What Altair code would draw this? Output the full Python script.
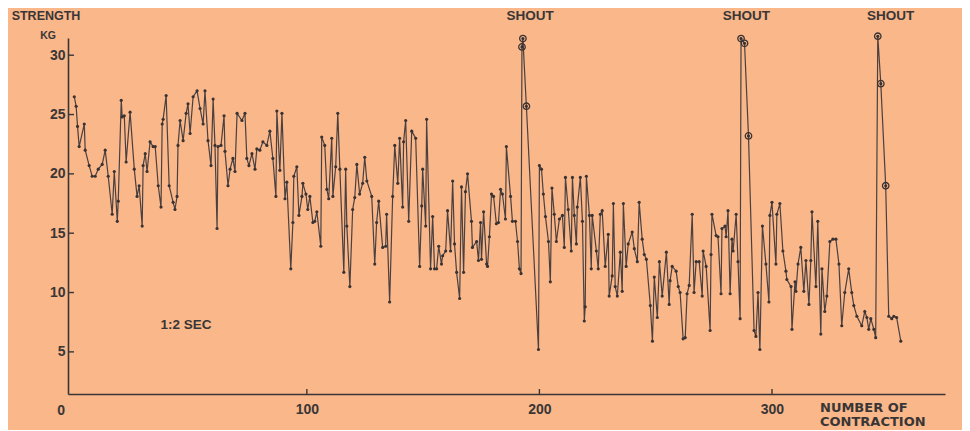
import altair as alt
import pandas as pd

# contraction number (x) and strength in kg (y)
x_a = [0.0, 0.8, 1.4, 2.1, 4.3, 4.7, 6.4, 7.7, 9.0, 10.3, 12.0, 13.3, 14.6, 16.3, 17.2, 18.5, 18.9, 20.2, 20.6, 21.5, 22.3, 24.0,
       25.8, 27.0, 27.9, 29.2, 29.6, 30.5, 31.3, 32.6, 33.9, 34.8, 36.1, 37.3, 37.8, 38.2, 39.5, 40.8, 42.5, 43.3, 44.2, 44.6, 45.5, 46.8, 48.1, 48.9, 49.8, 51.1, 52.8, 54.1,
       55.4, 56.2, 57.5, 58.8, 59.7, 60.5, 61.4, 61.8, 63.1, 64.4, 64.8, 66.1, 67.0, 68.2, 69.1, 70.0, 72.1, 73.4, 74.2, 75.1, 76.4, 77.7, 78.5, 79.8, 81.1, 82.8, 84.1]
y_a = [26.5, 25.7, 24.0, 22.3, 24.2, 22.0, 20.7, 19.8, 19.8, 20.4, 20.8, 22.0, 19.8, 16.6, 20.2, 16.0, 17.7, 26.2, 24.8, 24.9, 21.0, 25.2,
       20.4, 18.1, 19.0, 15.6, 20.7, 21.7, 20.2, 22.7, 22.3, 22.3, 19.0, 17.2, 24.2, 24.6, 26.6, 19.0, 17.6, 17.0, 18.1, 22.4, 24.5, 22.8, 25.1, 25.9, 23.4, 26.5, 27.0, 25.5,
       24.2, 27.0, 22.8, 20.7, 26.3, 22.4, 15.4, 22.3, 22.4, 24.9, 21.9, 19.0, 20.4, 21.3, 20.2, 25.1, 24.5, 25.1, 21.3, 20.7, 21.7, 20.4, 22.1, 22.0, 22.7, 22.4, 23.6]

x_b = [85.4, 86.7, 87.1, 88.4, 89.3, 90.6, 91.4, 93.1, 94.0, 94.4, 95.7, 96.6, 97.9, 98.3, 99.6, 100.4, 101.3, 102.6, 103.4, 104.3, 106.0, 106.4, 107.7, 108.6, 109.4, 110.7, 111.2, 112.4, 113.3, 114.2,
       115.9, 116.7, 117.2, 118.5, 119.7, 120.6, 121.5, 122.7, 124.0, 124.9, 125.8, 127.9, 129.2, 130.0, 130.9, 132.6, 133.9, 134.3, 135.6, 136.9, 137.8, 139.1, 139.9, 141.2, 141.6, 142.5, 143.8, 145.1,
       146.8, 148.5, 149.4, 149.8, 151.1, 151.5, 153.2, 154.1, 154.9, 155.8, 156.7, 157.9, 158.4, 159.7, 160.5, 161.8, 162.7, 163.5, 164.4, 165.7, 166.5, 167.4, 168.2, 169.1, 170.8, 171.2, 173.0, 173.8, 174.7]
y_b = [21.3, 18.1, 25.3, 20.3, 25.1, 17.9, 19.3, 12.0, 15.9, 19.8, 20.6, 16.5, 18.1, 19.2, 18.3, 17.0, 18.1, 15.9, 16.0, 16.8, 13.9, 23.1, 22.4, 18.7, 17.9, 23.0, 18.1, 20.6, 25.1, 20.4,
       11.7, 20.4, 15.6, 10.5, 17.0, 18.0, 20.8, 18.3, 19.2, 21.4, 19.4, 18.1, 12.4, 15.9, 17.7, 13.8, 13.9, 16.6, 9.2, 18.1, 22.4, 19.2, 23.0, 17.2, 22.7, 24.5, 16.0, 23.6,
       23.0, 12.2, 17.3, 20.4, 15.6, 24.6, 12.0, 16.4, 12.0, 12.0, 13.9, 12.4, 13.1, 13.5, 16.9, 13.5, 19.4, 14.1, 11.7, 9.5, 18.9, 11.7, 18.5, 20.0, 16.0, 13.8, 14.3, 12.7, 15.9]

x_c = [175.1, 176.0, 177.3, 177.7, 178.5, 179.4, 180.3, 181.5, 182.4, 183.3, 184.1, 185.4, 185.8, 187.6, 188.4, 189.7, 190.6, 191.4, 192.1, 192.5, 192.9, 194.4, 199.6, 200.0, 200.9, 201.7, 202.6, 203.9,
       204.7, 205.4, 206.4, 207.3, 208.6, 209.9, 210.7, 211.2, 212.4, 213.7, 214.2, 215.0, 215.9, 216.3, 217.6, 218.5, 219.3, 219.7, 220.2, 221.5, 222.3, 222.7, 224.5, 225.3, 226.2, 227.0, 228.3, 229.6, 230.0, 231.3, 231.8, 232.6, 233.5, 234.8,
       235.6, 236.1, 237.3, 238.2, 239.9, 240.8, 242.1, 242.9, 244.2, 245.1, 246.0, 247.7, 248.6, 249.4, 250.7, 251.6, 252.8, 254.6, 255.8, 256.2, 257.1, 258.8, 259.7, 260.5, 261.8, 262.7, 263.5]
y_c = [12.8, 16.8, 12.4, 12.2, 14.7, 18.3, 18.1, 15.8, 15.9, 18.7, 18.3, 16.2, 22.3, 18.1, 16.0, 16.0, 14.3, 12.0, 11.6, 30.7, 31.4, 25.7, 5.2, 20.7, 20.4, 18.3, 16.4, 14.3,
       10.9, 18.8, 16.6, 14.3, 16.2, 16.5, 13.8, 19.7, 17.0, 13.5, 19.7, 16.5, 14.1, 17.2, 19.7, 16.0, 7.6, 8.8, 19.8, 16.5, 12.0, 16.5, 13.5, 12.0, 16.6, 16.9, 12.2, 14.9, 9.7, 11.4, 17.5, 10.5, 9.7, 13.4,
       10.1, 17.5, 12.2, 14.1, 15.1, 13.7, 12.6, 17.6, 14.5, 13.2, 12.8, 8.9, 5.9, 11.3, 7.9, 12.6, 9.7, 13.4, 9.0, 11.0, 12.2, 11.8, 10.5, 10.0, 6.1, 6.2, 9.9]

x_d = [264.4, 265.7, 266.5, 267.4, 268.7, 270.0, 270.4, 271.7, 273.4, 273.8, 274.2, 276.0, 276.8, 278.1, 278.5, 279.8, 280.3, 281.1, 282.0, 282.8, 283.3, 284.6, 285.4, 286.3, 286.7, 288.2, 289.9, 292.3, 293.1, 294.0, 294.8, 295.9,
       297.4, 298.7, 299.1, 300.0, 301.7, 302.1, 303.4, 304.7, 306.0, 306.4, 308.2, 308.6, 309.9, 310.3, 311.2, 312.4, 313.7, 314.6, 315.9, 316.7, 317.2, 318.9, 319.7, 321.0, 321.5, 322.7, 323.6,
       324.9, 326.2, 327.5, 328.8, 330.0, 331.3, 333.0, 334.3, 335.2, 336.5, 338.6, 339.9, 340.8, 341.6, 342.5, 343.8, 344.6, 345.5, 346.8, 348.9, 350.2, 351.5, 352.4, 353.6, 355.4]
y_d = [10.6, 16.6, 10.0, 12.6, 12.6, 9.7, 13.5, 12.2, 6.8, 13.2, 16.6, 14.8, 14.7, 9.9, 15.4, 15.6, 14.7, 16.9, 9.9, 14.5, 13.5, 16.6, 12.6, 7.8, 31.4, 31.0, 23.2, 6.8, 6.3, 10.0, 5.2, 15.6,
       12.4, 9.2, 16.5, 17.6, 12.4, 16.6, 17.5, 13.5, 11.8, 11.1, 10.5, 6.9, 10.9, 10.1, 12.4, 13.8, 10.1, 12.7, 9.0, 12.7, 16.8, 10.5, 16.0, 6.5, 12.0, 8.4, 9.7,
       14.3, 14.5, 14.5, 12.4, 7.2, 10.0, 12.0, 10.0, 8.9, 8.0, 7.2, 8.4, 7.9, 6.9, 7.8, 6.9, 6.2, 31.6, 27.6, 19.0, 8.0, 7.8, 8.0, 7.9, 5.9]

# contractions made while shouting (circled points)
circled_x = [192.5, 192.9, 194.4, 286.7, 288.2, 289.9, 345.5, 346.8, 348.9]
shout_x = [196, 289, 351]
y_ticks = [5, 10, 15, 20, 25, 30]
x_ticks = [100, 200, 300]

BG = "#F9B78A"
INK = "#3A3636"
FONT = "Liberation Sans"
WIDE = "DejaVu Sans"

W, H = 877, 356
df = pd.DataFrame({"n": x_a + x_b + x_c + x_d, "s": y_a + y_b + y_c + y_d})
df_c = df[df["n"].isin(circled_x)]

xs = alt.Scale(domain=[-2.7, 374.4], nice=False, zero=False)
ys = alt.Scale(domain=[1.45, 31.45], nice=False, zero=False)

X = alt.X("n:Q", scale=xs, axis=alt.Axis(values=x_ticks, ticks=False, grid=False, title=None,
          labelFont=FONT, labelFontSize=14, labelFontWeight="bold", labelColor=INK,
          labelPadding=8, domainColor=INK, domainWidth=1.6))
Y = alt.Y("s:Q", scale=ys, axis=alt.Axis(values=y_ticks, ticks=False, grid=False, title=None,
          labelFont=FONT, labelFontSize=14, labelFontWeight="bold", labelColor=INK,
          labelPadding=3, domainColor=INK, domainWidth=1.6))

base = alt.Chart(df)
line = base.mark_line(color="#4A4040", strokeWidth=1.2).encode(x=X, y=Y, order="n:Q")
dots = base.mark_circle(color="#3A3232", size=10, opacity=1).encode(x="n:Q", y="s:Q")
rings = alt.Chart(df_c).mark_point(filled=False, color="#3A3232", size=42, strokeWidth=1.3, opacity=1).encode(x="n:Q", y="s:Q")

ytick_df = pd.DataFrame({"v": y_ticks})
yt = alt.Chart(ytick_df).mark_rule(color=INK, strokeWidth=1.4).encode(
    y="v:Q", x=alt.value(0), x2=alt.value(6))
xtick_df = pd.DataFrame({"v": x_ticks})
xt = alt.Chart(xtick_df).mark_rule(color=INK, strokeWidth=1.4).encode(
    x="v:Q", y=alt.value(H), y2=alt.value(H - 5))

def label(text, size=13, font=FONT, **kw):
    return alt.Chart(pd.DataFrame({"t": [text]})).mark_text(
        font=font, fontSize=size, fontWeight="bold", color=INK, **kw).encode(text="t:N")

zero = alt.Chart(pd.DataFrame({"v": [0], "t": ["0"]})).mark_text(
    font=FONT, fontSize=14, fontWeight="bold", color=INK, align="right", baseline="middle").encode(
    y="v:Q", x=alt.value(-3), text="t:N")

shout = alt.Chart(pd.DataFrame({"n": shout_x, "t": ["SHOUT"] * 3})).mark_text(
    font=FONT, fontSize=13.5, fontWeight="bold", color=INK, baseline="middle").encode(
    x="n:Q", y=alt.value(-22), text="t:N")

strength = label("STRENGTH", 12.5, baseline="middle").encode(x=alt.value(-22), y=alt.value(-22))
kg = label("KG", 10.5, baseline="middle").encode(x=alt.value(-20), y=alt.value(-2))
sec = alt.Chart(pd.DataFrame({"n": [48], "s": [7.3], "t": ["1:2 SEC"]})).mark_text(
    font=FONT, fontSize=13.5, fontWeight="bold", color=INK, baseline="middle").encode(
    x="n:Q", y="s:Q", text="t:N")
num = label("NUMBER OF", 13, font=WIDE, align="left", baseline="middle").encode(x=alt.value(752), y=alt.value(370))
con = label("CONTRACTION", 13, font=WIDE, align="left", baseline="middle").encode(x=alt.value(752), y=alt.value(384))

chart = alt.layer(line, dots, rings, yt, xt, zero, shout, strength, kg, sec, num, con).properties(
    width=W, height=H, background=BG,
    autosize=alt.AutoSizeParams(type="none"),
    padding={"left": 60, "top": 30, "right": 17, "bottom": 36},
).configure_view(stroke=None)

chart.save("out.html", embed_options={"renderer": "svg", "actions": False})
